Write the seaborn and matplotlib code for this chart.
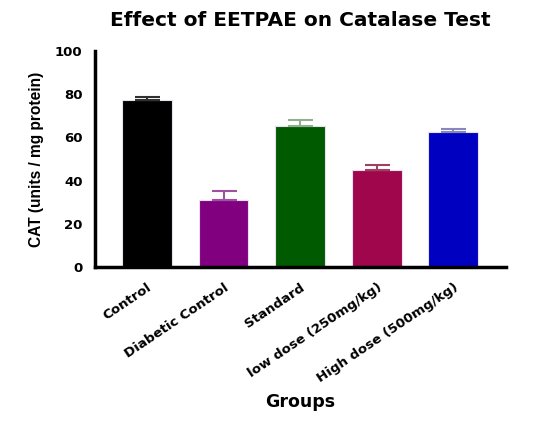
import numpy as np
import pandas as pd
import seaborn as sns
import matplotlib.pyplot as plt

groups = ["Control", "Diabetic Control", "Standard", "low dose (250mg/kg)", "High dose (500mg/kg)"]
cat_mean = [77.4, 31.1, 65.4, 44.8, 62.4]
cat_sem = [1.2, 3.9, 2.5, 2.4, 1.4]
bar_colors = ["#000000", "#800080", "#005a00", "#a0064b", "#0000c0"]
err_colors = ["#303030", "#a050a0", "#90b090", "#a04060", "#8888b8"]

df = pd.DataFrame({"group": groups, "cat": cat_mean})

sns.set_style("white")
plt.rcParams["font.family"] = ["DejaVu Sans"]
plt.rcParams["font.weight"] = "bold"
plt.rcParams["text.color"] = "black"
plt.rcParams["axes.labelcolor"] = "black"

fig = plt.figure(figsize=(5.47, 4.24), dpi=100)
ax = fig.add_axes([0.1737, 0.370, 0.7514, 0.510])

sns.barplot(data=df, x="group", y="cat", hue="group", palette=bar_colors,
            saturation=1, width=0.65, edgecolor="#e8e0f0", linewidth=0.8,
            legend=False, ax=ax)

for i, (m, s) in enumerate(zip(cat_mean, cat_sem)):
    ax.errorbar(i, m, yerr=[[0], [s]], fmt="none", ecolor=err_colors[i],
                elinewidth=1.5, capsize=9, capthick=1.5, zorder=3)

ax.set_xlim(-0.68, 4.69)
ax.set_ylim(0, 100)
ax.set_yticks([0, 20, 40, 60, 80, 100])
for side in ["top", "right"]:
    ax.spines[side].set_visible(False)
for side in ["left", "bottom"]:
    ax.spines[side].set_linewidth(2.5)
    ax.spines[side].set_color("black")
ax.tick_params(axis="both", direction="out", length=7, width=2.5, colors="black")
ax.tick_params(axis="y", pad=2)
ax.tick_params(axis="x", length=5, pad=5)
ax.set_xticks(range(len(groups)))
ax.set_xticklabels(groups, rotation=34, ha="right", rotation_mode="anchor",
                   fontweight="bold", fontsize=9.6, color="black")
for lab in ax.get_yticklabels():
    lab.set_fontweight("bold")
    lab.set_fontsize(9.5)
    lab.set_color("black")
ax.set_ylabel("CAT (units / mg protein)", fontsize=11.2, fontweight="bold",
              color="black", family="Liberation Sans")
ax.yaxis.set_label_coords(-0.125, 0.5)
ax.set_xlabel("Groups", fontsize=12.5, fontweight="bold", color="black")
ax.xaxis.set_label_coords(0.5, -0.0, transform=fig.transFigure)
ax.xaxis.label.set_position((0.549, 22 / 424))
ax.xaxis.label.set_verticalalignment("center")
fig.text(0.549, 1 - 21 / 424, "Effect of EETPAE on Catalase Test", ha="center",
         va="center", fontsize=14.5, fontweight="bold", color="black")

fig.savefig("out.png", dpi=100, facecolor="white")
